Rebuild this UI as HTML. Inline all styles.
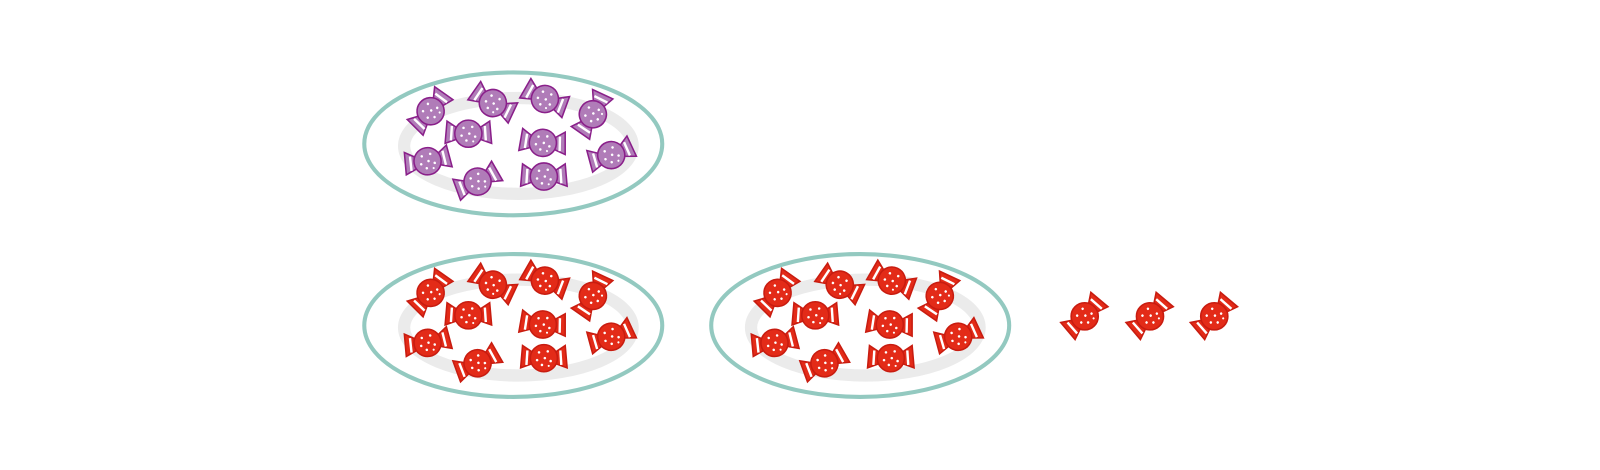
<!DOCTYPE html>
<html><head><meta charset="utf-8"><style>body{margin:0;background:#fff}svg{display:block}</style></head>
<body>
<svg width="1600" height="470" viewBox="0 0 1600 470">
<defs>
<g id="cand-p">
 <g fill="#b07cb8" stroke="#8a1f8a" stroke-width="1.6">
  <path d="M-10,-5 L-22,-13 L-24,10 L-10,5 Z"/><path d="M10,-5 L22,-13 L24,10 L10,5 Z"/>
  <path d="M-17,-8 L-18,7" stroke="#fff" stroke-width="2.5"/><path d="M17,-8 L18,7" stroke="#fff" stroke-width="2.5"/>
  <circle r="14"/>
 </g>
 <g fill="#fff"><circle cx="-5" cy="-6" r="1.3"/><circle cx="4" cy="-7" r="1.3"/><circle cx="-7" cy="2" r="1.3"/><circle cx="1" cy="0" r="1.3"/><circle cx="7" cy="3" r="1.3"/><circle cx="-2" cy="7" r="1.3"/><circle cx="5" cy="8" r="1.1"/></g>
</g>
<g id="cand-r">
 <g fill="#e32b18" stroke="#c81c10" stroke-width="1.6">
  <path d="M-10,-5 L-22,-13 L-24,10 L-10,5 Z"/><path d="M10,-5 L22,-13 L24,10 L10,5 Z"/>
  <path d="M-17,-8 L-18,7" stroke="#fff" stroke-width="2.5"/><path d="M17,-8 L18,7" stroke="#fff" stroke-width="2.5"/>
  <circle r="14"/>
 </g>
 <g fill="#fff"><circle cx="-5" cy="-6" r="1.3"/><circle cx="4" cy="-7" r="1.3"/><circle cx="-7" cy="2" r="1.3"/><circle cx="1" cy="0" r="1.3"/><circle cx="7" cy="3" r="1.3"/><circle cx="-2" cy="7" r="1.3"/><circle cx="5" cy="8" r="1.1"/></g>
</g>
</defs>
<g id="s" transform="scale(1.0204)"></g>
</svg>
<script>
const plateCenters=[[503,141,'p'],[503,319,'r'],[843,319,'r']];
const candyOffsets=[[-81,-32,-50],[-20,-40,30],[31,-44,25],[78,-29,-60],[-44,-10,0],[29,-1,5],[-84,17,-10],[96,11,-20],[-35,37,-25],[30,32,0]];
const looseCandies=[[1063,310],[1127,310],[1190,310]];
const NS='http://www.w3.org/2000/svg';const s=document.getElementById('s');
function mk(t,a){const e=document.createElementNS(NS,t);for(const k in a)e.setAttribute(k,a[k]);s.appendChild(e);return e;}
plateCenters.forEach(([cx,cy,c],i)=>{
 const p=mk('ellipse',{cx,cy,rx:146,ry:70,fill:'#fff',stroke:'#93c9c0','stroke-width':4});
 
 
 const r=mk('ellipse',{cx:cx+5,cy:cy+2,rx:112,ry:47,fill:'none',stroke:'#ebebeb','stroke-width':12});
 
 
 candyOffsets.forEach(([dx,dy,a])=>{
  const u=mk('use',{href:'#cand-'+c,transform:`translate(${cx+dx},${cy+dy}) rotate(${a}) scale(0.95)`});
  
  
 });
});
looseCandies.forEach(([x,y])=>{
 const u=mk('use',{href:'#cand-r',transform:`translate(${x},${y}) rotate(-45) scale(0.95)`});
 
 
});
</script>
</body></html>
